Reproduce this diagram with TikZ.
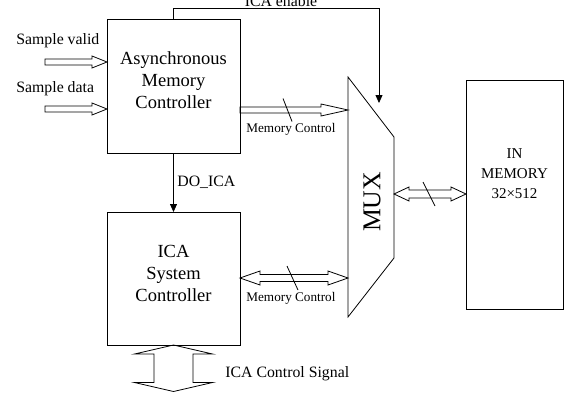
\documentclass[tikz,border=0pt]{standalone}
\usepackage{fontspec}
\setmainfont{Liberation Serif}
\usetikzlibrary{arrows.meta,calc}
\begin{document}
\begin{tikzpicture}[x=1pt,y=-1pt,
  line width=0.8pt,
  box/.style={draw,rectangle,inner sep=0pt,outer sep=0pt},
  bigtxt/.style={align=center,inner sep=0pt,font=\fontsize{18.5}{22}\selectfont},
  memtxt/.style={align=center,inner sep=0pt,font=\fontsize{15}{20}\selectfont},
  lbl/.style={inner sep=0pt,font=\fontsize{15.8}{18}\selectfont},
  smalllbl/.style={inner sep=0pt,font=\fontsize{13.2}{15}\selectfont},
  muxtxt/.style={inner sep=0pt,rotate=90,font=\fontsize{25.7}{28}\selectfont},
  sig/.style={-{Triangle[length=8pt,width=7pt]}},
  harrow/.style n args={3}{to path={let \p1=(\tikztostart),\p2=(\tikztotarget) in
     (\x1,\y1+#1) -- (\x2-#3,\y1+#1) -- (\x2-#3,\y1+#2) -- (\x2,\y1) -- (\x2-#3,\y1-#2) -- (\x2-#3,\y1-#1) -- (\x1,\y1-#1) -- cycle}},
  hdarrow/.style n args={3}{to path={let \p1=(\tikztostart),\p2=(\tikztotarget) in
     (\x1,\y1) -- (\x1+#3,\y1+#2) -- (\x1+#3,\y1+#1) -- (\x2-#3,\y1+#1) -- (\x2-#3,\y1+#2) -- (\x2,\y1) -- (\x2-#3,\y1-#2) -- (\x2-#3,\y1-#1) -- (\x1+#3,\y1-#1) -- (\x1+#3,\y1-#2) -- cycle}},
  vdarrow/.style n args={3}{to path={let \p1=(\tikztostart),\p2=(\tikztotarget) in
     (\x1,\y1) -- (\x1+#2,\y1-#3) -- (\x1+#1,\y1-#3) -- (\x1+#1,\y2+#3) -- (\x1+#2,\y2+#3) -- (\x1,\y2) -- (\x1-#2,\y2+#3) -- (\x1-#1,\y2+#3) -- (\x1-#1,\y1-#3) -- (\x1-#2,\y1-#3) -- cycle}},
]
\useasboundingbox (0,0) rectangle (566,392);

% boxes
\node[box,minimum width=133pt,minimum height=134pt] (async) at (173.5,86) {};
\node[box,minimum width=133pt,minimum height=133pt] (ica) at (173.5,278.5) {};
\node[box,minimum width=97pt,minimum height=229pt] (mem) at (514.5,194.5) {};

\node[bigtxt] (asynctxt) at (173.5,80) {Asynchronous\\Memory\\Controller};
\node[bigtxt] (icatxt) at (173.5,273) {ICA\\System\\Controller};
\node[memtxt] (memtxt) at (514.5,174) {IN\\MEMORY\\32×512};

% MUX
\coordinate (m1) at (348,77);
\coordinate (m2) at (394,137);
\coordinate (m3) at (394,258);
\coordinate (m4) at (348,317);
\draw (m1) -- (m2) -- (m3) -- (m4) -- cycle;
\node[muxtxt] (muxlbl) at (372,202) {MUX};
\coordinate (muxin1) at (348,110);
\coordinate (muxin2) at (348,278);
\coordinate (muxout) at (394,194);

% inputs
\coordinate (sv0) at (45,62);
\coordinate (sd0) at (45,109);
\draw[harrow={3pt}{6pt}{15pt}] (sv0) to (async.west |- sv0);
\draw[harrow={3pt}{6pt}{15pt}] (sd0) to (async.west |- sd0);
\node[lbl,anchor=base west] (svl) at (16,44) {Sample valid};
\node[lbl,anchor=base west] (sdl) at (16,92) {Sample data};

% ICA enable
\coordinate (en2) at (379,8);
\coordinate (entip) at (379,103);
\draw[sig] (async.north) |- (en2) -- (entip);
\node[lbl,anchor=base] (enl) at (281,6) {ICA enable};

% DO_ICA
\draw[sig] (async.south) -- (ica.north);
\node[lbl,anchor=base west] (doica) at (177,186) {DO\_ICA};

% memory control (upper)
\draw[harrow={3pt}{6pt}{27pt}] (async.east |- muxin1) to (muxin1);
\path (async.east |- muxin1) -- (muxin1) coordinate[pos=0.44] (sl1);
\draw ($(sl1)+(-4.5,-11.5)$) -- ($(sl1)+(4.5,11.5)$);
\node[smalllbl,anchor=base west] (mcl1) at (246,132) {Memory Control};

% memory control (lower)
\draw[hdarrow={3.5pt}{7pt}{20pt}] (ica.east |- muxin2) to (muxin2);
\path (ica.east |- muxin2) -- (muxin2) coordinate[pos=0.486] (sl2);
\draw ($(sl2)+(-5.5,-12)$) -- ($(sl2)+(5.5,12)$);
\node[smalllbl,anchor=base west] (mcl2) at (246,301) {Memory Control};

% mux to memory
\draw[hdarrow={4pt}{7pt}{15pt}] (muxout) to (mem.west |- muxout);
\path (muxout) -- (mem.west |- muxout) coordinate[pos=0.486] (sl3);
\draw ($(sl3)+(-6,-12)$) -- ($(sl3)+(6,12)$);

% ICA control signal
\coordinate (icabot) at (ica.south |- 0,391.5);
\draw[vdarrow={19.5pt}{39pt}{9pt}] (ica.south) to (icabot);
\node[lbl,anchor=base west] (icacs) at (225,377) {ICA Control Signal};
\end{tikzpicture}
\end{document}
